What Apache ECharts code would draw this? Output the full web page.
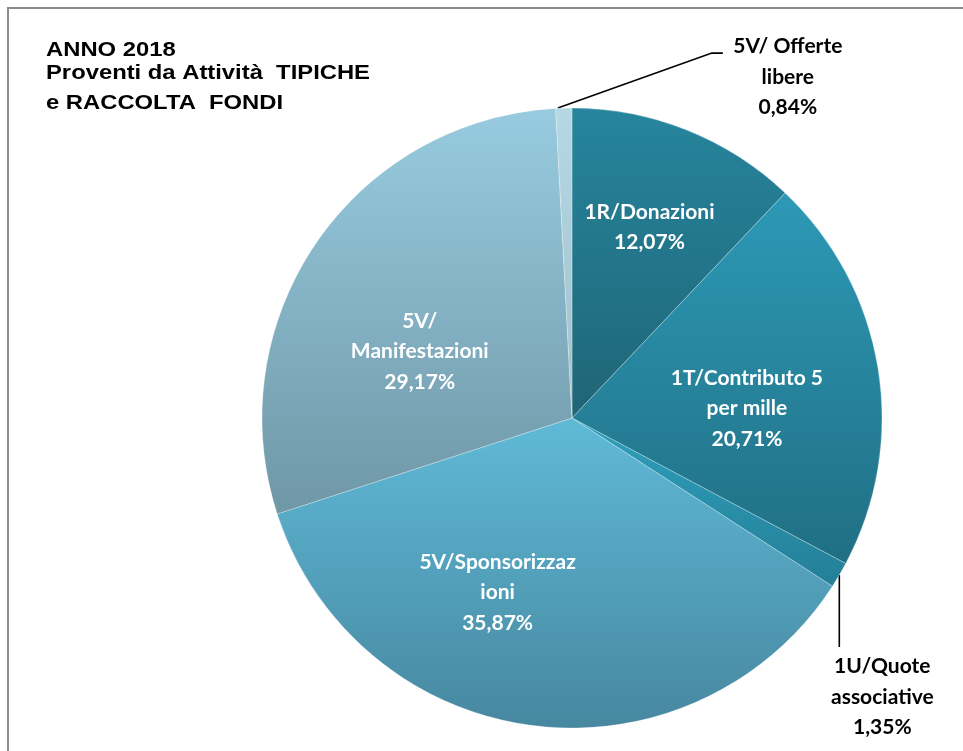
<!DOCTYPE html>
<html>
<head>
<meta charset="utf-8">
<script src="https://cdn.jsdelivr.net/npm/echarts@6/dist/echarts.min.js"></script>
<style>
  html, body { margin: 0; padding: 0; background: #fff; }
  #chart { width: 963px; height: 751px; }
  .frame { position: absolute; left: 7px; top: 7px; right: -10px; bottom: -10px;
    border-left: 2px solid #8c8c8c; border-top: 2px solid #8c8c8c; pointer-events: none; }
</style>
</head>
<body>
<div id="chart"></div>
<div class="frame"></div>
<script>
const categories = ['1R/Donazioni', '1T/Contributo 5 per mille', '1U/Quote associative', '5V/Sponsorizzazioni', '5V/Manifestazioni', '5V/ Offerte libere']
const shares = [12.07, 20.71, 1.35, 35.87, 29.17, 0.84]
// how excel wrapped the names inside the chart
const labelNames = ['1R/Donazioni', '1T/Contributo 5\nper mille', '1U/Quote\nassociative', '5V/Sponsorizzaz\nioni', '5V/\nManifestazioni', '5V/ Offerte\nlibere']
const titleLines = ['ANNO 2018', 'Proventi da Attività  TIPICHE', 'e RACCOLTA  FONDI']

const sliceColors = [
  ['#26859d', '#1f6576'],
  ['#2d99b6', '#206f83'],
  ['#2ea0bd', '#247f97'],
  ['#5fbad7', '#4787a0'],
  ['#98cbe0', '#6f97a6'],
  ['#b6d8e5', '#9fbfcc'],
]
const outsideSlices = [2, 5]
// small shifts so the inner labels sit where excel put them
const labelNudge = { 0: [19, -44], 1: [19, 16], 3: [-54, 18], 4: [-22, 23] }

const fmt = (v) => v.toFixed(2).replace('.', ',') + '%'

const chart = echarts.init(document.getElementById('chart'), null, { renderer: 'canvas' })

const data = categories.map((name, i) => {
  const outside = outsideSlices.includes(i)
  return {
    name,
    value: shares[i],
    itemStyle: {
      color: new echarts.graphic.LinearGradient(0, 0, 0, 1, [
        { offset: 0, color: sliceColors[i][0] },
        { offset: 1, color: sliceColors[i][1] },
      ]),
    },
    label: outside
      ? { position: 'outside', color: '#000' }
      : { position: 'inside', color: '#fff', offset: labelNudge[i] },
    labelLine: { show: outside },
  }
})

// excel drew the title a bit wide, so stretch it horizontally
const titleRich = { l0: { lineHeight: 20 }, l1: { lineHeight: 26 }, l2: { lineHeight: 35 } }

chart.setOption({
  animation: false,
  graphic: [{
    type: 'text',
    x: 46,
    y: 40,
    scaleX: 1.19,
    style: {
      text: titleLines.map((t, i) => '{l' + i + '|' + t + '}').join('\n'),
      rich: titleRich,
      fontFamily: 'Liberation Sans',
      fontWeight: 'bold',
      fontSize: 20,
      fill: '#000',
    },
  }],
  series: [{
    type: 'pie',
    center: [572, 418],
    radius: 310,
    startAngle: 90,
    clockwise: true,
    avoidLabelOverlap: false,
    itemStyle: { borderColor: 'rgba(255,255,255,0.45)', borderWidth: 0.6 },
    label: {
      fontFamily: 'Lato',
      fontWeight: 'bold',
      fontSize: 21,
      lineHeight: 30.5,
      align: 'center',
      formatter: (p) => labelNames[p.dataIndex] + '\n' + fmt(p.value),
    },
    labelLine: { lineStyle: { color: '#000', width: 1.6 } },
    labelLayout: (p) => {
      const pts = p.labelLinePoints
      if (!pts || !outsideSlices.includes(p.dataIndex)) return {}
      const [x0, y0] = pts[0]
      if (p.dataIndex === 5) {
        return {
          x: x0 + 224, y: y0 - 31, align: 'center', verticalAlign: 'middle',
          labelLinePoints: [[x0 - 6, y0], [x0 + 148, y0 - 55], [x0 + 159, y0 - 55]],
        }
      }
      return {
        x: x0 + 43, y: y0 + 122, align: 'center', verticalAlign: 'middle',
        labelLinePoints: [[x0, y0], [x0, y0 + 72], [x0, y0 + 72]],
      }
    },
    data,
  }],
})

window.addEventListener('resize', () => chart.resize())
</script>
</body>
</html>
